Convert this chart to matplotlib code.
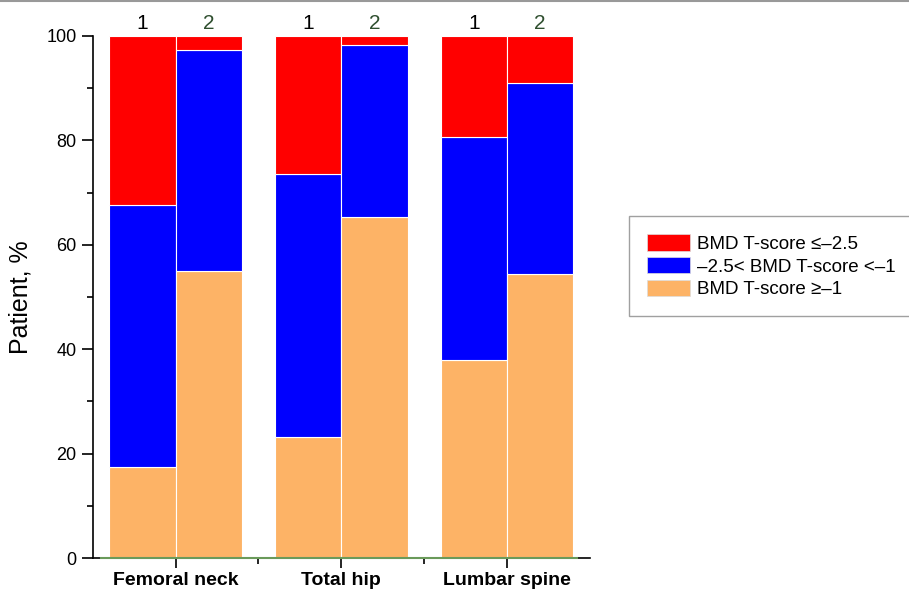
import numpy as np
import matplotlib
matplotlib.use("Agg")
import matplotlib.pyplot as plt
from matplotlib.lines import Line2D

plt.rcParams['font.family'] = ['Liberation Sans', 'DejaVu Sans']

# data
sites = ['Femoral neck', 'Total hip', 'Lumbar spine']
groups = ['1', '2']
# percent of patients per category, group 1 and group 2 for each site
normal = [[17.4, 55.0], [23.2, 65.3], [37.9, 54.4]]       # T-score >= -1
osteopenia = [[50.2, 42.3], [50.4, 33.0], [42.8, 36.6]]   # -2.5 < T < -1
osteoporosis = [[32.4, 2.7], [26.4, 1.7], [19.3, 9.0]]    # T <= -2.5
labels = ['BMD T-score \u2264\u20132.5', '\u20132.5< BMD T-score <\u20131', 'BMD T-score \u2265\u20131']
colors = ['#FF0000', '#0000FF', '#FDB366']

fig = plt.figure(figsize=(9.09, 5.90), dpi=100)
ax = fig.add_axes([0.102, 0.054, 0.547, 0.885])

w = 0.4
centers = np.arange(1, len(sites) + 1)
for i, c in enumerate(centers):
    for j in range(2):
        x = c - w / 2 + j * w
        n = normal[i][j]
        o = osteopenia[i][j]
        p = osteoporosis[i][j]
        ax.bar(x, n, w, color=colors[2], edgecolor='white', linewidth=0.8)
        ax.bar(x, o, w, bottom=n, color=colors[1], edgecolor='white', linewidth=0.8)
        ax.bar(x, p, w, bottom=n + o, color=colors[0], edgecolor='white', linewidth=0.8)
        ax.text(x, 100.6, groups[j], ha='center', va='bottom', fontsize=15,
                color='black' if j == 0 else '#2f4f2f')

# green baseline under the bars
ax.plot([centers[0] - w - 0.05, centers[-1] + w + 0.02], [0, 0], color='#6a9a5a',
        linewidth=1.5, zorder=5, clip_on=False)

ax.set_xlim(0.5, 3.5)
ax.set_ylim(0, 100)
ax.set_xticks(centers)
ax.set_xticklabels(sites, fontsize=14, fontweight='bold')
ax.set_xticks([1.5, 2.5], minor=True)
ax.set_yticks(range(0, 101, 20))
ax.set_yticks(range(10, 100, 20), minor=True)
ax.tick_params(axis='y', labelsize=13, length=8, width=1.2, direction='out')
ax.tick_params(axis='y', which='minor', length=4, width=1.2)
ax.tick_params(axis='x', length=7, width=1.2, direction='out', pad=3)
ax.tick_params(axis='x', which='minor', length=4, width=1.2)
ax.spines['top'].set_visible(False)
ax.spines['right'].set_visible(False)
ax.spines['left'].set_linewidth(1.2)
ax.spines['bottom'].set_linewidth(1.2)
ax.spines['left'].set_bounds(0, 100)
ax.set_ylabel('Patient, %', fontsize=18, labelpad=10)

handles = [plt.Rectangle((0, 0), 1, 1, facecolor=c, edgecolor='#dddddd', linewidth=0.5) for c in colors]
leg = fig.legend(handles, labels, loc='upper left', bbox_to_anchor=(0.692, 0.634),
                 fontsize=13.5, frameon=True, fancybox=False, edgecolor='#888888',
                 handlelength=2.3, handleheight=1.0, labelspacing=0.22,
                 borderpad=0.95, handletextpad=0.4, borderaxespad=0)
leg.get_frame().set_linewidth(1.0)

# grey line along the top of the figure
fig.add_artist(Line2D([0, 1], [0.998, 0.998], color='#999999', linewidth=1.5))

fig.savefig('out.png', dpi=100)
